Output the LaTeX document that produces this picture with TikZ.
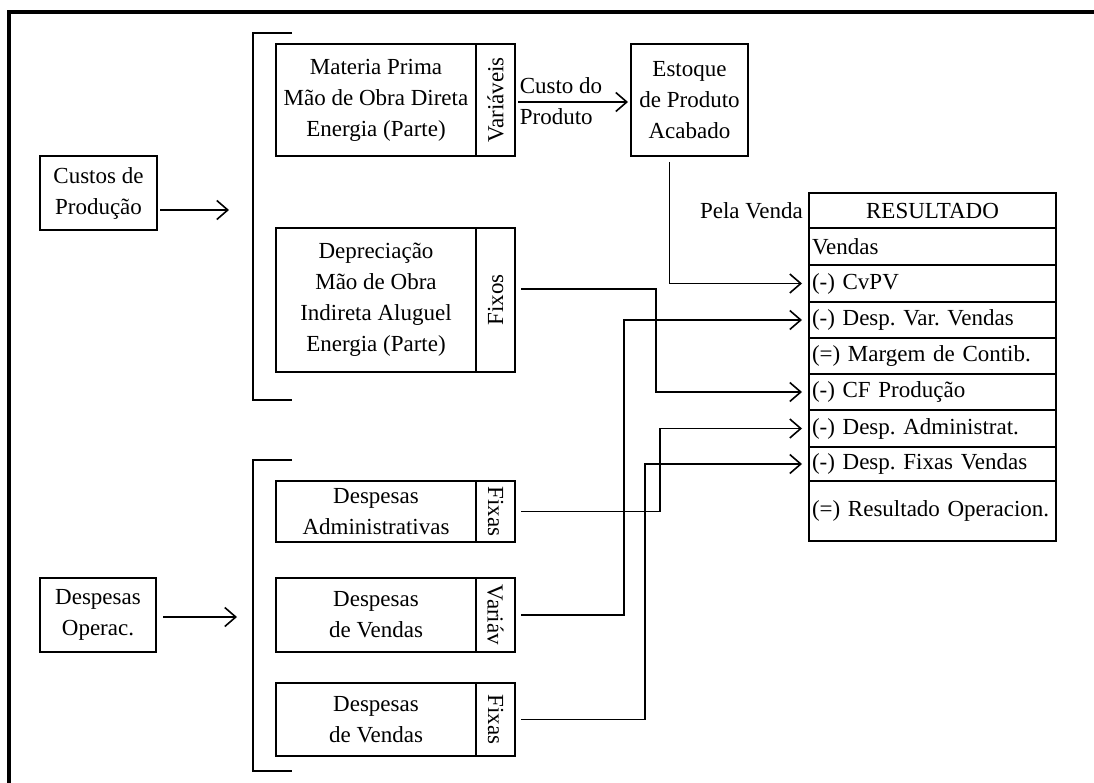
\documentclass[tikz,border=0pt]{standalone}
\usepackage{fontspec}
\setmainfont{Liberation Serif}
\usetikzlibrary{arrows.meta,positioning}

\begin{document}
\frenchspacing
\begin{tikzpicture}[x=1pt,y=-1pt,>={Straight Barb[length=11pt,width=19pt]},line width=1.6pt,
  every node/.style={font=\fontsize{23}{31}\selectfont},
  box/.style={draw,rectangle,align=center,inner sep=0pt,outer sep=0pt},
  tab/.style={draw,rectangle,inner sep=0pt,outer sep=0pt,minimum width=39pt},
  cell/.style={draw,rectangle,inner xsep=3pt,inner ysep=0pt,outer sep=0pt,text width=241pt,align=left},
  link/.style={->,shorten <=6pt,shorten >=7pt}]

\useasboundingbox (0,0) rectangle (1094,783);

% frame
\draw[line width=3.5pt] (9,783) -- (9,12) -- (1094,12);

% left side
\node[box,minimum width=117pt,minimum height=74pt] (custos) at (98.5,193) {Custos de\\Produção};
\node[box,minimum width=116pt,minimum height=74pt] (operac) at (98,615) {Despesas\\Operac.};

\coordinate (in1) at (229,210);
\coordinate (in2) at (237,617);

% brackets
\draw (292,33) -- (253,33) -- (253,400) -- (292,400);
\draw (292,460) -- (253,460) -- (253,771) -- (292,771);

% custos de producao
\node[box,minimum width=200pt,minimum height=112pt] (materia) at (376,100) {Materia Prima\\Mão de Obra Direta\\Energia (Parte)};
\node[tab,minimum height=112pt,right=0pt of materia] (tabVar) {\rotatebox{90}{Variáveis}};

\node[box,minimum width=200pt,minimum height=144pt] (deprec) at (376,300) {Depreciação\\Mão de Obra\\Indireta Aluguel\\Energia (Parte)};
\node[tab,minimum height=144pt,right=0pt of deprec] (tabFixos) {\rotatebox{90}{Fixos}};

\node[box,minimum width=117pt,minimum height=112pt] (estoque) at (689.5,100) {Estoque\\de Produto\\Acabado};
\node[align=left,anchor=west,inner sep=2pt] (custoLbl) at (517,101) {Custo do\\Produto};

% despesas operacionais
\node[box,minimum width=200pt,minimum height=61pt] (despAdm) at (376,511.5) {Despesas\\Administrativas};
\node[tab,minimum height=61pt,right=0pt of despAdm] (tabAdm) {\rotatebox{-90}{Fixas}};

\node[box,minimum width=200pt,minimum height=74pt] (despVend) at (376,615) {Despesas\\de Vendas};
\node[tab,minimum height=74pt,right=0pt of despVend] (tabVarV) {\rotatebox{-90}{Variáv}};

\node[box,minimum width=200pt,minimum height=73pt] (despFixV) at (376,719.5) {Despesas\\de Vendas};
\node[tab,minimum height=73pt,right=0pt of despFixV] (tabFixV) {\rotatebox{-90}{Fixas}};

% resultado
\node[cell,align=center,minimum height=35pt,anchor=north west] (r0) at (809,193) {RESULTADO};
\node[cell,minimum height=37pt,below=0pt of r0] (r1) {Vendas};
\node[cell,minimum height=37pt,below=0pt of r1] (r2) {(-) CvPV};
\node[cell,minimum height=36pt,below=0pt of r2] (r3) {(-) Desp. Var. Vendas};
\node[cell,minimum height=36pt,below=0pt of r3] (r4) {(=) Margem de Contib.};
\node[cell,minimum height=36pt,below=0pt of r4] (r5) {(-) CF Produção};
\node[cell,minimum height=37pt,below=0pt of r5] (r6) {(-) Desp. Administrat.};
\node[cell,minimum height=34pt,below=0pt of r6] (r7) {(-) Desp. Fixas Vendas};
\node[cell,minimum height=60pt,below=0pt of r7] (r8) {(=) Resultado Operacion.};
\node[left=2pt of r0] (pela) {Pela Venda};

% arrows
\draw[->,shorten <=3pt] (custos.east |- in1) -- (in1);
\draw[->,shorten <=7pt] (operac.east |- in2) -- (in2);

\draw[link,shorten <=3pt,shorten >=3pt] ([yshift=-2pt]tabVar.east) -- ([yshift=-2pt]estoque.west);
\draw[link] ([xshift=-20pt]estoque.south) |- (r2.west);
\draw[link] ([yshift=11pt]tabFixos.east) -- ++(141,0) |- (r5.west);
\draw[link] (tabAdm.east) -- ++(145,0) |- (r6.west);
\draw[link] (tabVarV.east) -- ++(109,0) |- (r3.west);
\draw[link] (tabFixV.east) -- ++(130,0) |- (r7.west);

\end{tikzpicture}
\end{document}
